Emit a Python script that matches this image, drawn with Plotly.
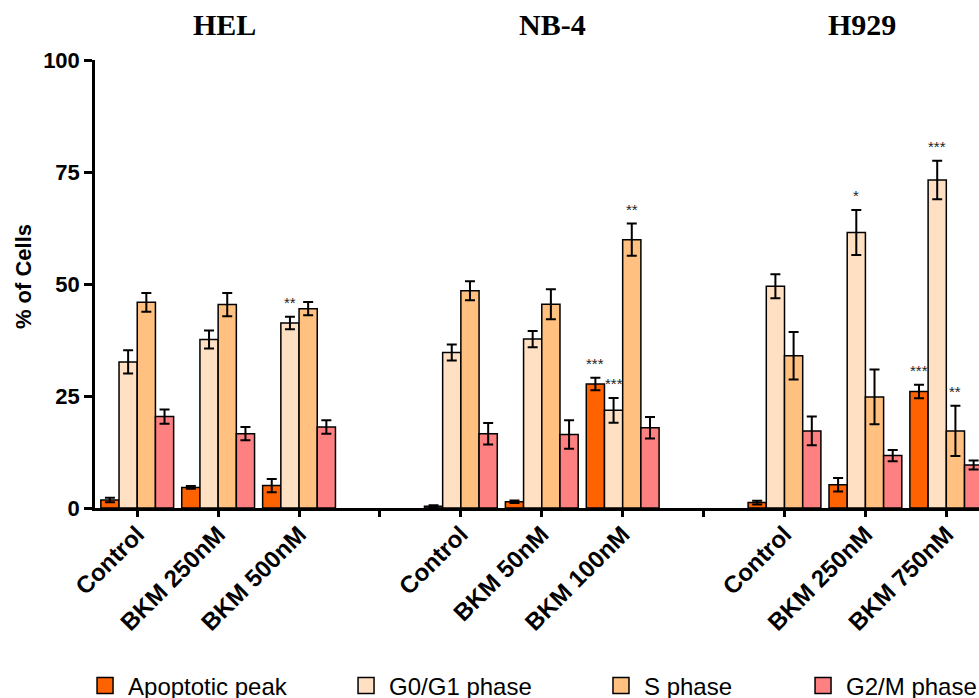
import plotly.graph_objects as go

# ---------------- data ----------------
cell_lines = ["HEL", "NB-4", "H929"]
tick_labels = ["Control", "BKM 250nM", "BKM 500nM", "",
               "Control", "BKM 50nM", "BKM 100nM", "",
               "Control", "BKM 250nM", "BKM 750nM"]
series_names = ["Apoptotic peak", "G0/G1 phase", "S phase", "G2/M phase"]
series_colors = ["#FF6200", "#FFE0C2", "#FFC080", "#FF8080"]

apoptotic = [1.8, 4.6, 5.0, None, 0.4, 1.4, 27.7, None, 1.2, 5.2, 26.0]
apoptotic_err = [0.5, 0.3, 1.5, None, 0.2, 0.3, 1.4, None, 0.4, 1.5, 1.5]
g0g1 = [32.6, 37.6, 41.3, None, 34.7, 37.7, 21.8, None, 49.5, 61.5, 73.2]
g0g1_err = [2.6, 2.0, 1.4, None, 1.8, 1.8, 2.75, None, 2.7, 5.0, 4.3]
s_phase = [45.9, 45.4, 44.5, None, 48.5, 45.5, 59.9, None, 34.0, 24.8, 17.2]
s_phase_err = [2.1, 2.6, 1.5, None, 2.1, 3.35, 3.6, None, 5.3, 6.1, 5.6]
g2m = [20.4, 16.6, 18.1, None, 16.6, 16.4, 17.9, None, 17.2, 11.7, 9.6]
g2m_err = [1.6, 1.5, 1.5, None, 2.4, 3.2, 2.4, None, 3.2, 1.25, 1.0]

# significance marks: (slot index, series index, text)
significance = [(2, 1, "**"), (6, 0, "***"), (6, 1, "***"), (6, 2, "**"),
                (9, 1, "*"), (10, 0, "***"), (10, 1, "***"), (10, 2, "**")]

title_positions = [1.08, 5.13, 8.96]
y_ticks = [0, 25, 50, 75, 100]

# ---------------- figure ----------------
values = [apoptotic, g0g1, s_phase, g2m]
errors = [apoptotic_err, g0g1_err, s_phase_err, g2m_err]
x_pos = list(range(len(tick_labels)))

fig = go.Figure()
for name, col, v, e in zip(series_names, series_colors, values, errors):
    fig.add_trace(go.Bar(
        x=x_pos, y=v, name=name, showlegend=False,
        marker=dict(color=col, line=dict(color="black", width=1.5)),
        error_y=dict(type="data", array=e, visible=True, color="black",
                     thickness=2, width=5),
    ))

legend_ids = ["legend", "legend2", "legend3", "legend4"]
for name, col, lid in zip(series_names, series_colors, legend_ids):
    fig.add_trace(go.Scatter(
        x=[None], y=[None], mode="markers", name=name, legend=lid,
        marker=dict(symbol="square", size=16, color=col,
                    line=dict(color="black", width=1.5)),
    ))

bargap = 0.1
bar_w = (1 - bargap) / len(series_names)
annotations = []
for slot, k, txt in significance:
    annotations.append(dict(
        x=slot + (k - (len(series_names) - 1) / 2) * bar_w,
        y=values[k][slot] + errors[k][slot], xref="x", yref="y",
        text=txt, showarrow=False, xanchor="center", yanchor="bottom", yshift=4,
        font=dict(family="Liberation Sans", size=15, color="#222222"),
    ))
for name, xp in zip(cell_lines, title_positions):
    annotations.append(dict(
        x=xp, y=1.08, xref="x", yref="paper", text=name, showarrow=False,
        xanchor="center", yanchor="middle",
        font=dict(family="Liberation Serif", size=30, color="black", weight="bold"),
    ))
annotations.append(dict(
    x=-0.08, y=0.516, xref="paper", yref="paper", text="% of Cells",
    textangle=-90, showarrow=False, xanchor="center", yanchor="middle",
    font=dict(family="Liberation Sans", size=22, color="black", weight="bold"),
))

leg_x = [0.0838, 0.3504, 0.6108, 0.8172]
legend_common = dict(orientation="h", xref="container", yref="container",
                     xanchor="left", yanchor="middle", itemwidth=36,
                     y=0.0172, bgcolor="rgba(0,0,0,0)",
                     font=dict(family="Liberation Sans", size=24, color="black"))
legends = {lid: dict(x=lx, **legend_common) for lid, lx in zip(legend_ids, leg_x)}

fig.update_layout(
    width=979, height=698,
    margin=dict(l=95, r=0, t=60, b=190, autoexpand=False),
    paper_bgcolor="white", plot_bgcolor="white",
    barmode="group", bargap=bargap, bargroupgap=0,
    annotations=annotations,
    font=dict(family="Liberation Sans", color="black"),
    **legends,
)
fig.update_xaxes(
    range=[-0.522, 10.404], tickmode="array", tickvals=x_pos, ticktext=tick_labels,
    tickangle=-45, showline=True, linecolor="black", linewidth=2.5,
    ticks="outside", ticklen=6, tickwidth=2.5, tickcolor="black",
    showgrid=False, zeroline=False, automargin=False, ticklabelstandoff=-6,
    tickfont=dict(family="Liberation Sans", size=24, color="black", weight="bold"),
)
fig.update_yaxes(
    range=[0, 100], tickmode="array", tickvals=y_ticks,
    showline=True, linecolor="black", linewidth=2.5,
    ticks="outside", ticklen=8, tickwidth=2.5, tickcolor="black",
    showgrid=False, zeroline=False, automargin=False,
    tickfont=dict(family="Liberation Sans", size=22, color="black", weight="bold"),
)

fig.write_html("out.html", config={"displayModeBar": False},
               post_script="document.body.style.margin='0px';"
                           "document.body.style.overflow='hidden';")
